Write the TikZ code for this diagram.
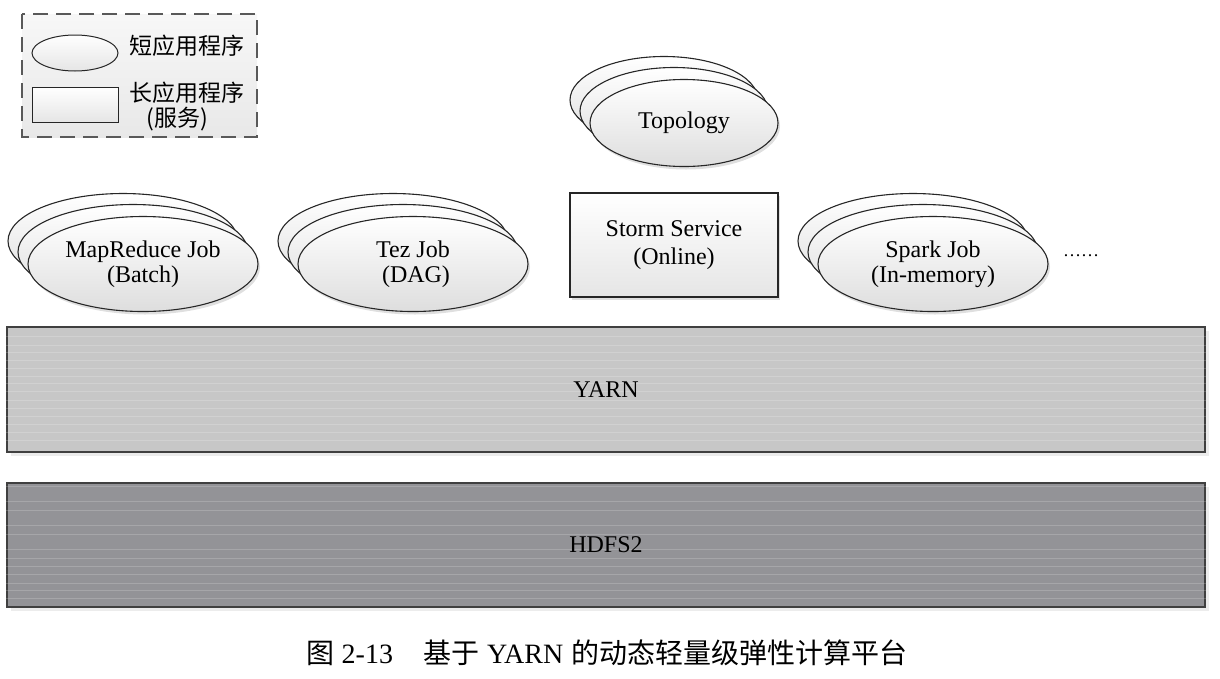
\documentclass[tikz,border=0pt]{standalone}
\usepackage{fontspec}
\setmainfont{Liberation Serif}
\newfontfamily\cjk{Noto Sans CJK SC}
\usetikzlibrary{shapes.geometric,shadows}
\definecolor{yarnfill}{HTML}{C7C7C7}
\definecolor{hdfsfill}{HTML}{939397}
\tikzset{
  job/.style={ellipse, draw=black!85, line width=1.1pt, top color=white, bottom color=black!13,
    minimum width=230pt, minimum height=95pt, inner sep=0pt, align=center,
    font=\fontsize{24}{25}\selectfont,
    drop shadow={shadow xshift=2pt, shadow yshift=-3pt, opacity=.25}},
  topo/.style={job, minimum width=188pt, minimum height=87pt},
  svcbox/.style={rectangle, draw=black!85, line width=1.1pt, top color=white, bottom color=black!10,
    minimum width=208pt, minimum height=104pt, inner sep=0pt, align=center,
    font=\fontsize{24}{28}\selectfont,
    drop shadow={shadow xshift=2pt, shadow yshift=-3pt, opacity=.25}},
  bar/.style={rectangle, draw=black!75, line width=1.4pt, minimum width=1198pt, inner sep=0pt,
    font=\fontsize{24}{26}\selectfont,
    drop shadow={shadow xshift=4pt, shadow yshift=-4pt, opacity=.15}},
  legtext/.style={font=\cjk\fontsize{23}{23}\selectfont, inner sep=0pt, align=center},
  legframe/.style={draw=black!65, line width=2.6pt, dash pattern=on 15pt off 8pt,
    top color=black!3, bottom color=black!9},
  texture/.style={white, opacity=.18, line width=.7pt},
}
\newcommand\jobstack[5]{%
  \node[#5] (#1back) at (#2-20,#3-23) {};
  \node[#5] (#1mid) at (#2-10,#3-12) {};
  \node[#5] (#1) at (#2,#3) {#4};
}
\begin{document}
\begin{tikzpicture}[x=1pt,y=-1pt]
\useasboundingbox (0,0) rectangle (1220,678);

% legend
\draw[legframe] (22,14) rectangle (257,137);
\node[ellipse, draw=black!85, line width=1pt, top color=white, bottom color=black!10,
  minimum width=86pt, minimum height=36pt, inner sep=0pt] (legell) at (75,53) {};
\node[rectangle, draw=black!85, line width=1pt, top color=white, bottom color=black!10,
  minimum width=86pt, minimum height=35pt, inner sep=0pt] (legrect) at (75,104.5) {};
\node[legtext] (legshort) at (187,46) {短应用程序};
\node[legtext] (leglong) at (187,93) {长应用程序};
\node[legtext] (legsvc) at (177,119) {(服务)};

% topology stack
\jobstack{topo}{684}{123}{Topology}{topo}

% job stacks
\jobstack{mr}{143}{264}{MapReduce Job\\(Batch)}{job}
\jobstack{tez}{413}{264}{Tez Job\\\hspace*{6pt}(DAG)}{job}
\jobstack{spark}{933}{264}{Spark Job\\(In-memory)}{job}

% storm service
\node[svcbox] (storm) at (674,245) {Storm Service\\(Online)};

% ellipsis
\node[font=\fontsize{18}{18}\selectfont, inner sep=0pt] (more) at (1081,256) {……};

% YARN
\node[bar, minimum height=125pt, fill=yarnfill] (yarn) at (606,389.5) {};
\foreach \k in {10,19,26,34,42,50,57,65,74,82,90,98,106,114} {
  \draw[texture] ([yshift=-\k pt]yarn.north west) -- ([yshift=-\k pt]yarn.north east);
}
\node[font=\fontsize{24}{26}\selectfont] (yarnlabel) at (yarn.center) {YARN};

% HDFS2
\node[bar, minimum height=124pt, fill=hdfsfill] (hdfs) at (606,545) {};
\foreach \k in {4,19,28,43,52,67,76,84,92,101,108,116} {
  \draw[texture] ([yshift=-\k pt]hdfs.north west) -- ([yshift=-\k pt]hdfs.north east);
}
\node[font=\fontsize{24}{26}\selectfont] (hdfslabel) at (hdfs.center) {HDFS2};

% caption
\node[font=\fontsize{28}{28}\selectfont, inner sep=0pt] (caption) at (607,653)
  {{\cjk 图}\hspace{7pt}2-13\hspace{30pt}{\cjk 基于}\hspace{8pt}YARN\hspace{8pt}{\cjk 的动态轻量级弹性计算平台}};
\end{tikzpicture}
\end{document}
